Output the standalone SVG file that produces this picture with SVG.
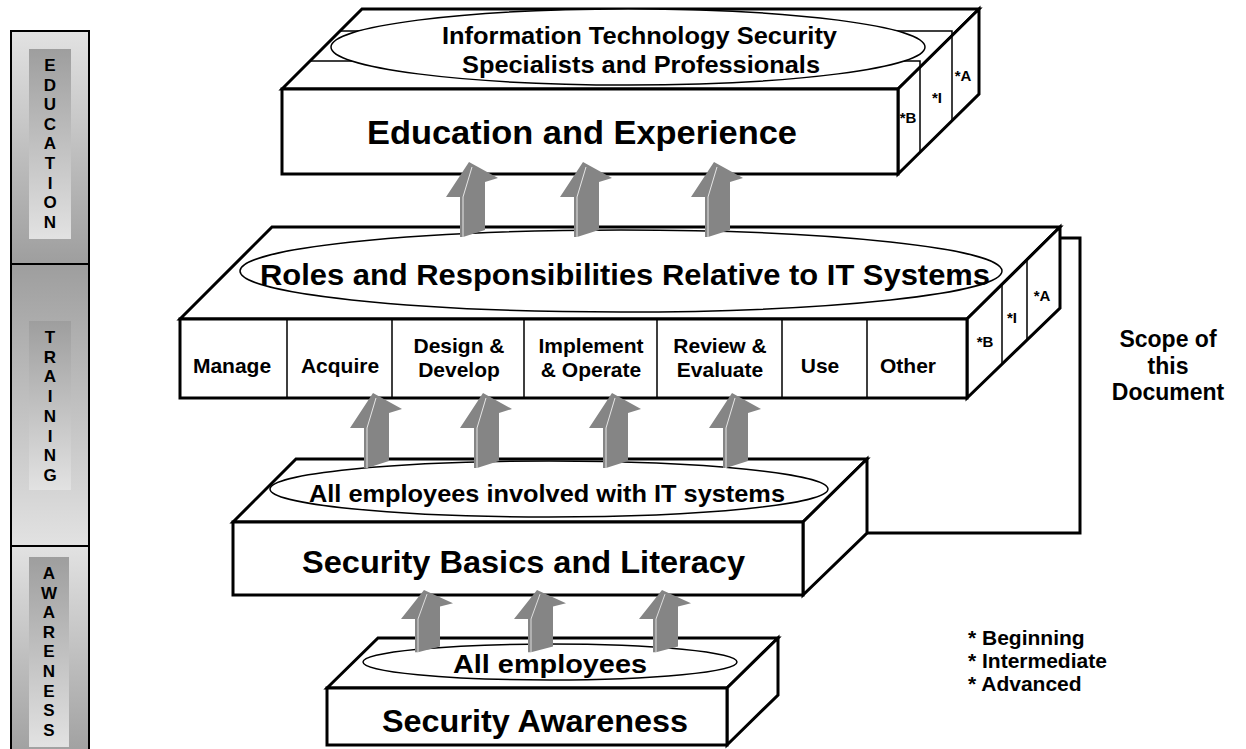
<svg xmlns="http://www.w3.org/2000/svg" xmlns:xlink="http://www.w3.org/1999/xlink" width="1246" height="749" viewBox="0 0 1246 749">
<style>
.t{font-family:"Liberation Sans",Arial,Helvetica,sans-serif;font-weight:bold;fill:#000}
.edge{fill:#fff;stroke:#000;stroke-width:3;stroke-linejoin:miter}
.thin{fill:none;stroke:#000;stroke-width:1.5}
.ell{fill:#fff;stroke:#000;stroke-width:1.5}
.arw{fill:#858585}
.hl{fill:none;stroke:#fff;stroke-width:0.8}
.bar{stroke:#000;stroke-width:2}
.lt{font-size:17px;text-anchor:middle}
.col{font-size:21px;text-anchor:middle}
.tier{font-size:15px;text-anchor:middle}
</style>
<defs>
<linearGradient id="gLight" x1="0" y1="0" x2="0" y2="1"><stop offset="0" stop-color="#e2e2e2"/><stop offset="1" stop-color="#9e9e9e"/></linearGradient>
<linearGradient id="gDark" x1="0" y1="0" x2="0" y2="1"><stop offset="0" stop-color="#9e9e9e"/><stop offset="1" stop-color="#e2e2e2"/></linearGradient>
<g id="arr"><path class="arw" d="M0,0 L29,16 L16,20 L16,68 L-6,75 L-9,75 L-9,35 L-23,35 Z"/><path class="hl" d="M3,5 L-6,35 L-6,75"/></g>
</defs>
<rect width="1246" height="749" fill="#fff"/>

<g id="side-bar">
<rect class="bar" x="11" y="31" width="78" height="233" fill="url(#gLight)"/>
<rect x="29" y="49" width="42" height="190" fill="url(#gDark)"/>
<text class="t lt"><tspan x="50" y="71">E</tspan><tspan x="50" y="90.6">D</tspan><tspan x="50" y="110.2">U</tspan><tspan x="50" y="129.8">C</tspan><tspan x="50" y="149.4">A</tspan><tspan x="50" y="169">T</tspan><tspan x="50" y="188.6">I</tspan><tspan x="50" y="208.2">O</tspan><tspan x="50" y="227.8">N</tspan></text>
<rect class="bar" x="11" y="264" width="78" height="282" fill="url(#gDark)"/>
<rect x="29" y="321" width="42" height="169" fill="url(#gDark)"/>
<text class="t lt"><tspan x="50" y="343">T</tspan><tspan x="50" y="362.7">R</tspan><tspan x="50" y="382.4">A</tspan><tspan x="50" y="402.1">I</tspan><tspan x="50" y="421.8">N</tspan><tspan x="50" y="441.5">I</tspan><tspan x="50" y="461.2">N</tspan><tspan x="50" y="480.9">G</tspan></text>
<rect class="bar" x="11" y="546" width="78" height="215" fill="url(#gLight)"/>
<rect x="29" y="557" width="40" height="190" fill="url(#gDark)"/>
<text class="t lt"><tspan x="49" y="579">A</tspan><tspan x="49" y="598.6">W</tspan><tspan x="49" y="618.2">A</tspan><tspan x="49" y="637.8">R</tspan><tspan x="49" y="657.4">E</tspan><tspan x="49" y="677">N</tspan><tspan x="49" y="696.6">E</tspan><tspan x="49" y="716.2">S</tspan><tspan x="49" y="735.8">S</tspan></text>
</g>

<g id="education-box">
<polygon class="edge" points="282,89 362,9 979,9 898,89"/>
<polygon class="edge" points="898,89 979,9 979,94 898,174"/>
<path class="thin" d="M340,31 H952 V120.5 M310,61 H920 V152.3"/>
<ellipse class="ell" cx="628" cy="47" rx="297" ry="38"/>
<rect class="edge" x="282" y="89" width="616" height="85"/>
<text class="t" x="442" y="44" font-size="24" textLength="395" lengthAdjust="spacingAndGlyphs">Information Technology Security</text>
<text class="t" x="462" y="73" font-size="24" textLength="358" lengthAdjust="spacingAndGlyphs">Specialists and Professionals</text>
<text class="t" x="367" y="144" font-size="34" textLength="430" lengthAdjust="spacingAndGlyphs">Education and Experience</text>
<text class="t tier" x="908" y="123">*B</text>
<text class="t tier" x="937" y="103">*I</text>
<text class="t tier" x="963" y="81">*A</text>
</g>

<g id="training-box">
<polygon class="edge" points="180,319 272,227 1060,227 967,319"/>
<polygon class="edge" points="967,319 1060,227 1060,308 967,398"/>
<path class="thin" d="M1002,284.4 V364.1 M1027,259.6 V339.9"/>
<ellipse class="ell" cx="621" cy="271" rx="381" ry="41"/>
<rect class="edge" x="180" y="319" width="787" height="79"/>
<path class="thin" d="M287,319 V398 M392,319 V398 M524,319 V398 M657,319 V398 M782,319 V398 M867,319 V398"/>
<text class="t" x="260" y="285" font-size="30" textLength="730" lengthAdjust="spacingAndGlyphs">Roles and Responsibilities Relative to IT Systems</text>
<text class="t col" x="232" y="373">Manage</text>
<text class="t col" x="340" y="373">Acquire</text>
<text class="t col" x="459" y="353">Design &amp;</text>
<text class="t col" x="459" y="377">Develop</text>
<text class="t col" x="591" y="353">Implement</text>
<text class="t col" x="591" y="377">&amp; Operate</text>
<text class="t col" x="720" y="353">Review &amp;</text>
<text class="t col" x="720" y="377">Evaluate</text>
<text class="t col" x="820" y="373">Use</text>
<text class="t col" x="908" y="373">Other</text>
<text class="t tier" x="985" y="347">*B</text>
<text class="t tier" x="1012" y="323">*I</text>
<text class="t tier" x="1042" y="301">*A</text>
</g>

<g id="basics-box">
<polygon class="edge" points="233,522 296,459 867,459 803,522"/>
<polygon class="edge" points="803,522 867,459 867,533 803,595"/>
<ellipse class="ell" cx="549" cy="489" rx="279" ry="28"/>
<rect class="edge" x="233" y="522" width="570" height="73"/>
<text class="t" x="309" y="502" font-size="24" textLength="476" lengthAdjust="spacingAndGlyphs">All employees involved with IT systems</text>
<text class="t" x="302" y="573" font-size="32" textLength="443" lengthAdjust="spacingAndGlyphs">Security Basics and Literacy</text>
</g>

<g id="awareness-box">
<polygon class="edge" points="327,688 378,638 778,638 727,688"/>
<polygon class="edge" points="727,688 778,638 778,695 727,745"/>
<ellipse class="ell" cx="550" cy="662" rx="187" ry="18"/>
<rect class="edge" x="327" y="688" width="400" height="57"/>
<text class="t" x="453" y="673" font-size="26" textLength="194" lengthAdjust="spacingAndGlyphs">All employees</text>
<text class="t" x="382" y="732" font-size="32" textLength="306" lengthAdjust="spacingAndGlyphs">Security Awareness</text>
</g>

<g id="connectors">
<polyline points="1060,238 1080,238 1080,533 867,533" fill="none" stroke="#000" stroke-width="3"/>
<use xlink:href="#arr" href="#arr" x="469" y="162"/>
<use xlink:href="#arr" href="#arr" x="583" y="162"/>
<use xlink:href="#arr" href="#arr" x="714" y="162"/>
<use xlink:href="#arr" href="#arr" x="373" y="393"/>
<use xlink:href="#arr" href="#arr" x="483" y="393"/>
<use xlink:href="#arr" href="#arr" x="612" y="393"/>
<use xlink:href="#arr" href="#arr" x="732" y="393"/>
<use xlink:href="#arr" href="#arr" transform="translate(424,590) scale(1,0.83)"/>
<use xlink:href="#arr" href="#arr" transform="translate(537,590) scale(1,0.83)"/>
<use xlink:href="#arr" href="#arr" transform="translate(662,590) scale(1,0.83)"/>
</g>

<g id="scope-label">
<text class="t" font-size="23" text-anchor="middle"><tspan x="1168" y="347">Scope of</tspan><tspan x="1168" y="374">this</tspan><tspan x="1168" y="400">Document</tspan></text>
</g>

<g id="legend">
<text class="t" font-size="21"><tspan x="968" y="645">* Beginning</tspan><tspan x="968" y="668">* Intermediate</tspan><tspan x="968" y="691">* Advanced</tspan></text>
</g>
</svg>
